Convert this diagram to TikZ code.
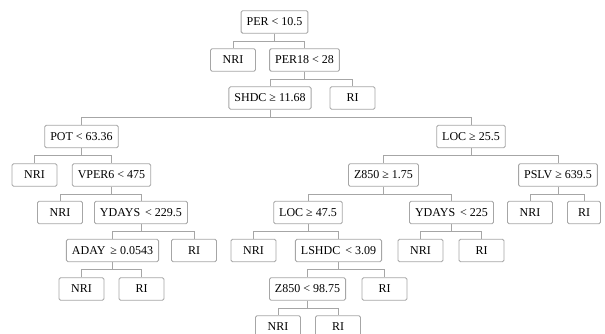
\documentclass[tikz,border=0pt]{standalone}
\usepackage{fontspec}
\setmainfont{Liberation Serif}
\usepackage{xcolor}

\begin{document}
\begin{tikzpicture}[x=1pt, y=-1pt,
    every node/.style={draw=gray!70, rounded corners=1.5pt, line width=0.9pt, fill=white,
      font=\fontsize{12}{14}\selectfont, inner xsep=5.5pt, inner ysep=0pt,
      minimum width=45pt, minimum height=22.5pt},
    link/.style={draw=gray!70, line width=0.9pt}]
  \useasboundingbox (0,0) rectangle (605,334);

  \node (per)   at (274.5,22)   {PER < 10.5};
  \node (nri1)  at (233,60)     {NRI};
  \node (per18) at (304.5,60)   {PER18 < 28};
  \node (shdc)  at (270,98)     {SHDC ≥ 11.68};
  \node (ri1)   at (352.5,98)   {RI};
  \node (pot)   at (81.5,136.5) {POT < 63.36};
  \node (loca)  at (471,136.5)  {LOC ≥ 25.5};
  \node (nri2)  at (34.5,175)   {NRI};
  \node (vper)  at (111.5,175)  {VPER6 < 475};
  \node (za)    at (383.5,175)  {Z850 ≥ 1.75};
  \node (pslv)  at (558,175)    {PSLV ≥ 639.5};
  \node (nri3)  at (60,212.5)   {NRI};
  \node (ydaya) at (141,212.5)  {YDAYS\, < 229.5};
  \node (locb)  at (308,212.5)  {LOC ≥ 47.5};
  \node (ydayb) at (451.5,212.5) {YDAYS\, < 225};
  \node (nri4)  at (530,212.5)  {NRI};
  \node[minimum width=33pt] (ri2) at (584,212.5) {RI};
  \node (aday)  at (112.5,250.5) {ADAY\, ≥ 0.0543};
  \node (ri3)   at (194,250.5)  {RI};
  \node (nri5)  at (253.5,250.5) {NRI};
  \node (lshdc) at (338.5,250.5) {LSHDC\, < 3.09};
  \node (nri6)  at (420.5,250.5) {NRI};
  \node (ri4)   at (481.5,250.5) {RI};
  \node (nri7)  at (81.5,289)   {NRI};
  \node (ri5)   at (141.5,289)  {RI};
  \node (zb)    at (307.5,289)  {Z850 < 98.75};
  \node (ri6)   at (384.5,289)  {RI};
  \node (nri8)  at (278,327)    {NRI};
  \node (ri7)   at (338,327)    {RI};

  \draw[link] (per.south) -- ++(0,7.5) -| (nri1.north);
  \draw[link] (per.south) -- ++(0,7.5) -| (per18.north);
  \draw[link] (per18.south) -- ++(0,7.5) -| (shdc.north);
  \draw[link] (per18.south) -- ++(0,7.5) -| (ri1.north);
  \draw[link] (shdc.south) -- ++(0,8) -| (pot.north);
  \draw[link] (shdc.south) -- ++(0,8) -| (loca.north);
  \draw[link] (pot.south) -- ++(0,7.5) -| (nri2.north);
  \draw[link] (pot.south) -- ++(0,7.5) -| (vper.north);
  \draw[link] (loca.south) -- ++(0,7.5) -| (za.north);
  \draw[link] (loca.south) -- ++(0,7.5) -| (pslv.north);
  \draw[link] (vper.south) -- ++(0,7.5) -| (nri3.north);
  \draw[link] (vper.south) -- ++(0,7.5) -| (ydaya.north);
  \draw[link] (za.south) -- ++(0,7.5) -| (locb.north);
  \draw[link] (za.south) -- ++(0,7.5) -| (ydayb.north);
  \draw[link] (pslv.south) -- ++(0,7.5) -| (nri4.north);
  \draw[link] (pslv.south) -- ++(0,7.5) -| (ri2.north);
  \draw[link] (ydaya.south) -- ++(0,7.5) -| (aday.north);
  \draw[link] (ydaya.south) -- ++(0,7.5) -| (ri3.north);
  \draw[link] (locb.south) -- ++(0,7.5) -| (nri5.north);
  \draw[link] (locb.south) -- ++(0,7.5) -| (lshdc.north);
  \draw[link] (ydayb.south) -- ++(0,7.5) -| (nri6.north);
  \draw[link] (ydayb.south) -- ++(0,7.5) -| (ri4.north);
  \draw[link] (aday.south) -- ++(0,7.5) -| (nri7.north);
  \draw[link] (aday.south) -- ++(0,7.5) -| (ri5.north);
  \draw[link] (lshdc.south) -- ++(0,7.5) -| (zb.north);
  \draw[link] (lshdc.south) -- ++(0,7.5) -| (ri6.north);
  \draw[link] (zb.south) -- ++(0,7.5) -| (nri8.north);
  \draw[link] (zb.south) -- ++(0,7.5) -| (ri7.north);
\end{tikzpicture}
\end{document}
